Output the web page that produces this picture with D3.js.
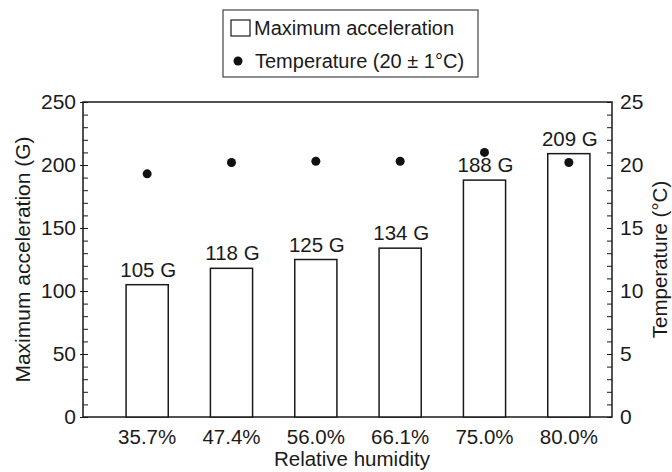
<!DOCTYPE html>
<meta charset="utf-8">
<style>
body { margin: 0; background: #fff; }
text { font-family: "Liberation Sans", Arial, Helvetica, sans-serif; fill: #1a1a1a; }
.axis path, .axis line { stroke: #1a1a1a; }
</style>
<svg width="672" height="472"></svg>
<script src="https://d3js.org/d3.v7.min.js"></script>
<script>

var humidity = ["35.7%", "47.4%", "56.0%", "66.1%", "75.0%", "80.0%"];
var accel = [105, 118, 125, 134, 188, 209];
var temp = [19.3, 20.2, 20.3, 20.3, 21.0, 20.2];
var accelTicks = [0, 50, 100, 150, 200, 250];
var tempTicks = [0, 5, 10, 15, 20, 25];

var svg = d3.select("svg"),
    pLeft = 83, pRight = 612, pTop = 102, pBottom = 417;

var x = d3.scaleBand().domain(humidity).range([105, 611]).paddingInner(0.5).paddingOuter(0.25);
var y = d3.scaleLinear().domain([0, 250]).range([pBottom, pTop]);
var y2 = d3.scaleLinear().domain([0, 25]).range([pBottom, pTop]);

// frame
svg.append("rect").attr("x", pLeft).attr("y", pTop).attr("width", pRight - pLeft).attr("height", pBottom - pTop)
    .attr("fill", "none").attr("stroke", "#1a1a1a").attr("stroke-width", 1.5);

// left axis: minor + major ticks
svg.append("g").attr("class", "axis").attr("transform", "translate(" + pLeft + ",0)")
    .call(d3.axisLeft(y).tickValues(d3.range(0, 251, 10)).tickSize(-5).tickFormat(""))
    .call(function(g) { g.select(".domain").remove(); });
svg.append("g").attr("class", "axis").attr("transform", "translate(" + pLeft + ",0)")
    .call(d3.axisLeft(y).tickValues(accelTicks).tickSize(3).tickPadding(4))
    .call(function(g) { g.select(".domain").remove(); g.selectAll("text").attr("font-size", 21); });

// right axis
svg.append("g").attr("class", "axis").attr("transform", "translate(" + pRight + ",0)")
    .call(d3.axisRight(y2).tickValues(d3.range(0, 26, 1)).tickSize(-5).tickFormat(""))
    .call(function(g) { g.select(".domain").remove(); });
svg.append("g").attr("class", "axis").attr("transform", "translate(" + pRight + ",0)")
    .call(d3.axisRight(y2).tickValues(tempTicks).tickSize(0).tickPadding(8))
    .call(function(g) { g.select(".domain").remove(); g.selectAll("text").attr("font-size", 21); });

// x labels
svg.append("g").attr("class", "axis").attr("transform", "translate(0," + pBottom + ")")
    .call(d3.axisBottom(x).tickSize(0).tickPadding(12))
    .call(function(g) { g.select(".domain").remove(); g.selectAll("text").attr("font-size", 20.5); });

// bars
svg.append("g").selectAll("rect").data(accel).enter().append("rect")
    .attr("x", function(d, i) { return x(humidity[i]); })
    .attr("y", function(d) { return y(d); })
    .attr("width", x.bandwidth())
    .attr("height", function(d) { return y(0) - y(d); })
    .attr("fill", "#fff").attr("stroke", "#1a1a1a").attr("stroke-width", 1.5);

svg.append("g").selectAll("text").data(accel).enter().append("text")
    .attr("x", function(d, i) { return x(humidity[i]) + x.bandwidth() / 2 + 1; })
    .attr("y", function(d) { return y(d) - 8; })
    .attr("text-anchor", "middle").attr("font-size", 20.5)
    .text(function(d) { return d + " G"; });

// temperature dots
svg.append("g").selectAll("circle").data(temp).enter().append("circle")
    .attr("cx", function(d, i) { return x(humidity[i]) + x.bandwidth() / 2; })
    .attr("cy", function(d) { return y2(d); })
    .attr("r", 4.5).attr("fill", "#111");

// axis titles
svg.append("text").attr("transform", "translate(30," + (pTop + pBottom) / 2 + ") rotate(-90)")
    .attr("text-anchor", "middle").attr("font-size", 21).text("Maximum acceleration (G)");
svg.append("text").attr("transform", "translate(667," + (pTop + pBottom) / 2 + ") rotate(-90)")
    .attr("text-anchor", "middle").attr("font-size", 20.5).text("Temperature (\u00b0C)");
svg.append("text").attr("x", 352).attr("y", 466)
    .attr("text-anchor", "middle").attr("font-size", 20.5).text("Relative humidity");

// legend
var lg = svg.append("g");
lg.append("rect").attr("x", 223).attr("y", 10).attr("width", 255).attr("height", 67)
    .attr("fill", "#fff").attr("stroke", "#444").attr("stroke-width", 1.2);
lg.append("rect").attr("x", 231).attr("y", 20).attr("width", 19).attr("height", 16)
    .attr("fill", "#fff").attr("stroke", "#1a1a1a").attr("stroke-width", 1.2);
lg.append("text").attr("x", 254).attr("y", 35).attr("font-size", 20).text("Maximum acceleration");
lg.append("circle").attr("cx", 238).attr("cy", 61).attr("r", 4.5).attr("fill", "#111");
lg.append("text").attr("x", 255).attr("y", 68).attr("font-size", 20).text("Temperature (20 \u00b1 1\u00b0C)");

</script>
